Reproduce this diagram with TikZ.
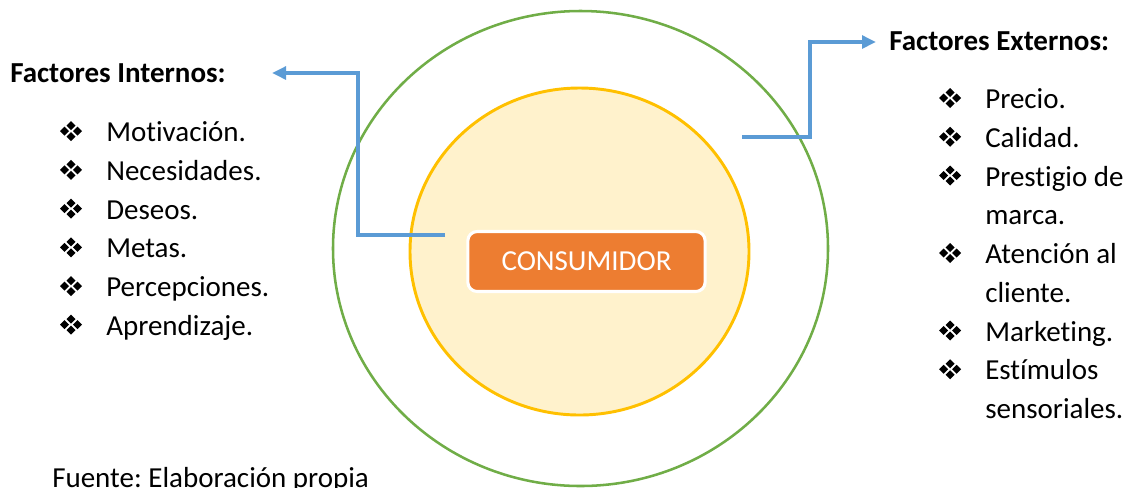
\documentclass[tikz,border=0pt]{standalone}
\usepackage{fontspec}
\setmainfont{Carlito}[Ligatures=NoCommon]
\frenchspacing
\usetikzlibrary{arrows.meta}
\definecolor{cgreen}{HTML}{70AD47}
\definecolor{cyelfill}{HTML}{FFF2CC}
\definecolor{cyeldraw}{HTML}{FFC000}
\definecolor{corange}{HTML}{ED7D31}
\definecolor{cblue}{HTML}{5B9BD5}
\tikzset{
  txt/.style={inner sep=0pt, anchor=base west, font=\fontsize{21.75pt}{26pt}\selectfont},
  head/.style={txt, font=\fontsize{21.75pt}{26pt}\selectfont\bfseries},
  conn/.style={draw=cblue, line width=2.6pt, -{Triangle[length=10.5pt,width=9.5pt]}},
  bul/.pic={\foreach \dx/\dy in {-6.5/0,6.5/0,0/-5.5,0/5.5}{\fill[black] (\dx-4.5,\dy) -- (\dx,\dy-4.5) -- (\dx+4.5,\dy) -- (\dx,\dy+4.5) -- cycle;}}
}
\begin{document}
\begin{tikzpicture}[x=0.75pt,y=-0.75pt]
\useasboundingbox (0,0) rectangle (1131,487);
\clip (0,0) rectangle (1131,487);
% circles
\draw[cgreen, line width=1.9pt, fill=white] (580.5,248.5) ellipse [x radius=247.5, y radius=237.5];
\draw[cyeldraw, line width=2.2pt, fill=cyelfill] (579.5,251.5) ellipse [x radius=169.5, y radius=163.5];
% consumidor
\node[draw=white, line width=2.3pt, fill=corange, rounded corners=7pt, minimum width=178pt, minimum height=45pt, inner sep=0pt, text=white, font=\fontsize{21.75pt}{26pt}\selectfont] (cons) at (586.5,261.5) {CONSUMIDOR};
% headings
\node[head] (hint) at (10,82) {Factores Internos:};
\node[head] (hext) at (889,50) {Factores Externos:};
% left list
\foreach \t [count=\i from 0] in {Motivación.,Necesidades.,Deseos.,Metas.,Percepciones.,Aprendizaje.}{
  \node[txt] (l\i) at (106,141.7+38.7*\i) {\t};
  \pic at (71,131.2+38.7*\i) {bul};
}
% right list
\foreach \t [count=\i from 0] in {Precio.,Calidad.,Prestigio de,marca.,Atención al,cliente.,Marketing.,Estímulos,sensoriales.}{
  \node[txt] (r\i) at (985,108.5+38.75*\i) {\t};
}
\foreach \i in {0,1,2,4,6,7}{
  \pic at (950,98+38.75*\i) {bul};
}
% source
\node[txt] (src) at (52,487) {Fuente: Elaboración propia};
% connectors
\coordinate (ls) at (445,235);
\coordinate (lt) at (272,73);
\coordinate (rs) at (742,137);
\coordinate (rt) at (876,42);
\draw[conn] (ls) -- (358,235) -- (358,73) -- (lt);
\draw[conn] (rs) -- (810,137) -- (810,42) -- (rt);
\end{tikzpicture}
\end{document}
